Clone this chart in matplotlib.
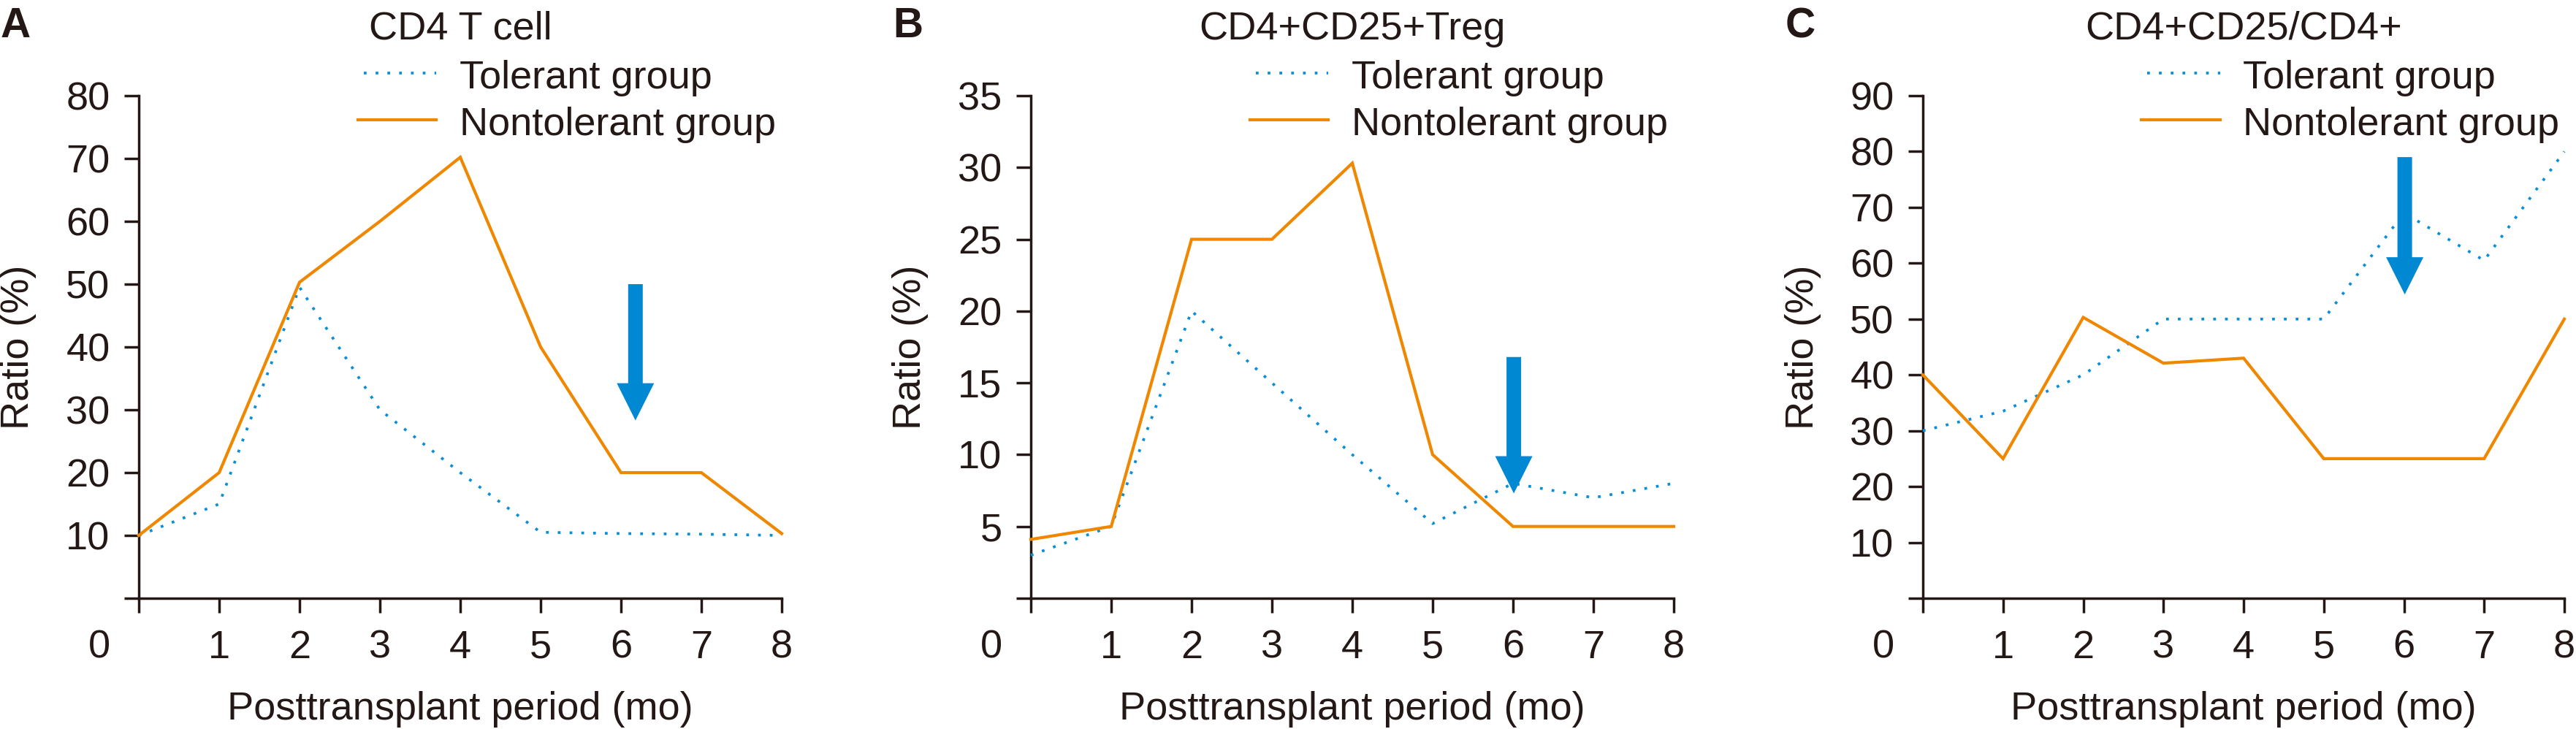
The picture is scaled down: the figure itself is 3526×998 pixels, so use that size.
import matplotlib
matplotlib.use('Agg')
import matplotlib.pyplot as plt
from matplotlib.patches import FancyArrow

# ---------------- data ----------------
months = [0, 1, 2, 3, 4, 5, 6, 7, 8]

titles = ["CD4 T cell", "CD4+CD25+Treg", "CD4+CD25/CD4+"]
panel_letters = ["A", "B", "C"]

tolerant_a = [10, 15, 49.5, 30, 20, 10.5, 10.3, 10.2, 10]
nontolerant_a = [10, 20, 50.3, 60, 70.2, 40, 20, 20, 10.3]

tolerant_b = [3, 5, 20, 15, 10, 5.2, 8, 7, 8]
nontolerant_b = [4.1, 5, 25, 25, 30.3, 10, 5, 5, 5]

tolerant_c = [30, 33.5, 40, 50, 50, 50, 69, 60.5, 80]
nontolerant_c = [40, 25, 50.3, 42.1, 43, 25, 25, 25, 50]

y_max = [80, 35, 90]
y_step = [10, 5, 10]

# arrow annotations: (x, top value, tip value)
arrow_a = (6.18, 50, 28.3)
arrow_b = (6.01, 16.8, 7.3)
arrow_c = (6.01, 79, 54.4)

legend_labels = ["Tolerant group", "Nontolerant group"]
xlabel = "Posttransplant period (mo)"
ylabel = "Ratio (%)"

# ---------------- style ----------------
TEXT = "#231815"
ORANGE = "#EF8700"
BLUE = "#0A8FD6"
ARROW = "#0088D2"
FS = 39
LW_DOT = 2.7
LW_SOLID = 3.0
DOT_STYLE = (0, (1, 3.3))
plt.rcParams['font.family'] = ['Liberation Sans', 'DejaVu Sans']

W, H = 3526, 998
fig = plt.figure(figsize=(W / 100, H / 100), dpi=100)

ax_bottom_px, ax_top_px = 819, 131
ax_lr_px = [(190, 1070), (1411, 2291), (2632, 3510)]

tol_all = [tolerant_a, tolerant_b, tolerant_c]
non_all = [nontolerant_a, nontolerant_b, nontolerant_c]
arrows = [arrow_a, arrow_b, arrow_c]

for i in range(3):
    l, r = ax_lr_px[i]
    ax = fig.add_axes([l / W, 1 - ax_bottom_px / H, (r - l) / W,
                       (ax_bottom_px - ax_top_px) / H])
    ax.set_xlim(0, 8)
    ax.set_ylim(0, y_max[i])
    px_per_y = (ax_bottom_px - ax_top_px) / y_max[i]
    px_per_x = (r - l) / 8

    ax.plot(months, tol_all[i], color=BLUE, lw=LW_DOT, linestyle=DOT_STYLE,
            dash_capstyle='butt', clip_on=False, zorder=3)
    ax.plot(months, non_all[i], color=ORANGE, lw=LW_SOLID, clip_on=False,
            zorder=3, solid_joinstyle='miter')

    ax_x, top, tip = arrows[i]
    arr = FancyArrow(ax_x, top, 0, tip - top, width=20 / px_per_x,
                     head_width=51 / px_per_x, head_length=51 / px_per_y,
                     length_includes_head=True, color=ARROW, lw=0, zorder=5)
    ax.add_patch(arr)

    for s in ['top', 'right']:
        ax.spines[s].set_visible(False)
    for s in ['left', 'bottom']:
        ax.spines[s].set_color(TEXT)
        ax.spines[s].set_linewidth(2.5)

    yt = list(range(0, y_max[i] + 1, y_step[i]))
    ax.set_yticks(yt)
    ax.set_yticklabels([''] + [str(v) for v in yt[1:]])
    ax.set_xticks(months)
    ax.set_xticklabels([''] + [str(m) for m in months[1:]])
    ax.tick_params(axis='both', direction='out', length=14.4, width=2.5,
                   colors=TEXT, labelsize=FS)
    ax.tick_params(axis='x', pad=16.5)
    ax.tick_params(axis='y', pad=14)

    ax.annotate('0', xy=(-0.49, 0), xycoords=('data', 'axes fraction'),
                xytext=(0, -(14.4 + 16.5)), textcoords='offset points',
                ha='center', va='top', fontsize=FS, color=TEXT,
                annotation_clip=False)

    ax.text(0.5, -0.2413, xlabel, transform=ax.transAxes, ha='center',
            va='baseline', fontsize=FS, color=TEXT)
    ax.text(-0.187, 0.5, ylabel, transform=ax.transAxes, ha='center',
            va='center', rotation=90, fontsize=FS, color=TEXT)

    ax.text(0.5, 1.112, titles[i], transform=ax.transAxes, ha='center',
            va='baseline', fontsize=FS, color=TEXT)
    ax.text(-0.215, 1.116, panel_letters[i], transform=ax.transAxes,
            ha='left', va='baseline', fontsize=FS + 2, fontweight='bold',
            color=TEXT)

    # legend
    ax.plot([0.350, 0.463], [1.045, 1.045], transform=ax.transAxes,
            color=BLUE, lw=LW_DOT, linestyle=DOT_STYLE, clip_on=False)
    ax.plot([0.341, 0.463], [0.952, 0.952], transform=ax.transAxes,
            color=ORANGE, lw=LW_SOLID, clip_on=False)
    ax.text(0.499, 1.0145, legend_labels[0], transform=ax.transAxes,
            ha='left', va='baseline', fontsize=FS, color=TEXT)
    ax.text(0.499, 0.9215, legend_labels[1], transform=ax.transAxes,
            ha='left', va='baseline', fontsize=FS, color=TEXT)

fig.savefig('out.png', dpi=100)
